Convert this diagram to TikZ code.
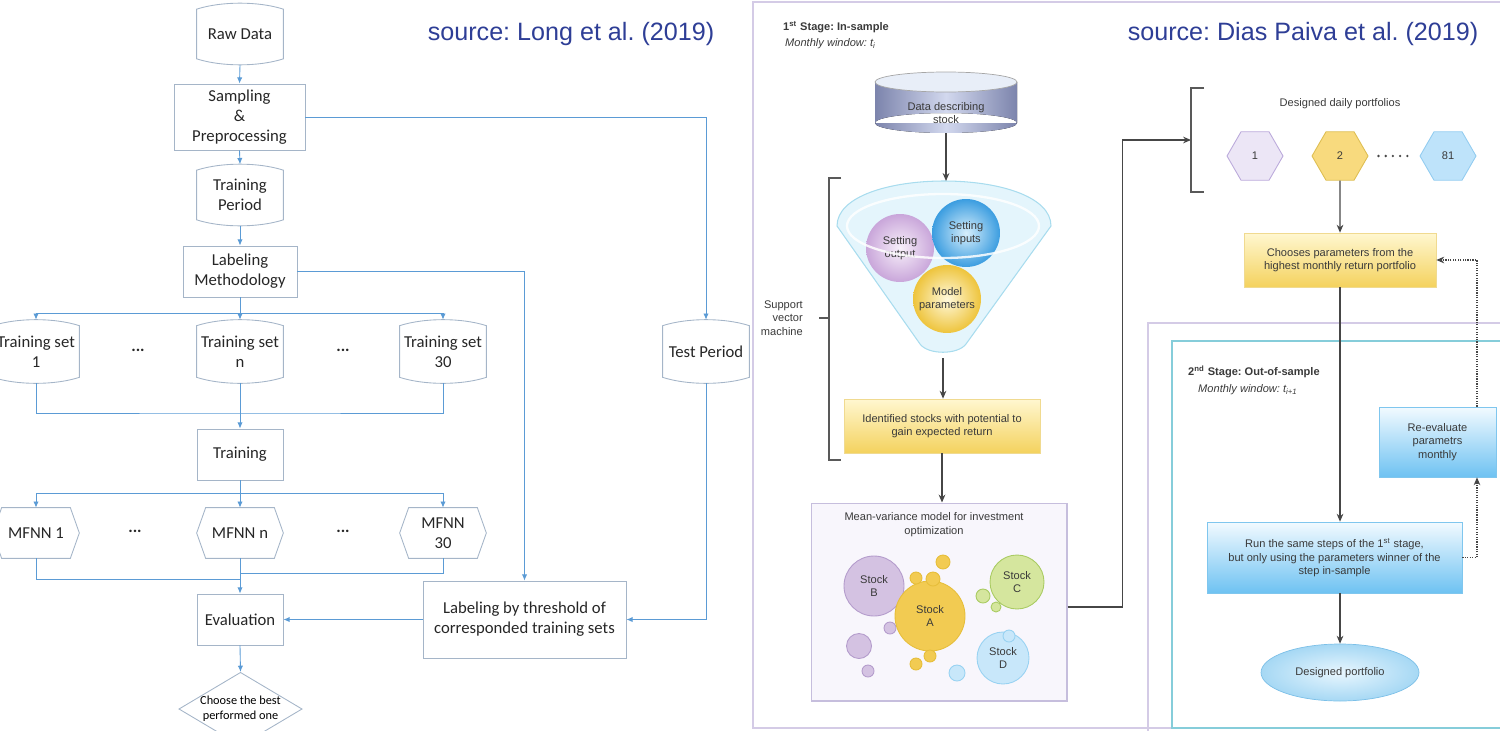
\documentclass[tikz,border=0pt]{standalone}
\usepackage{fontspec}
\setmainfont{Liberation Sans}
\newfontfamily\calib{Carlito}
\usepackage{tikz}
\usetikzlibrary{positioning, arrows.meta, shapes.geometric}
\frenchspacing
\definecolor{flowblue}{RGB}{91,155,213}
\definecolor{boxgray}{RGB}{165,181,200}
\definecolor{srcblue}{RGB}{46,62,150}
\definecolor{txtgray}{RGB}{58,58,58}
\definecolor{arrgray}{RGB}{70,70,70}
\definecolor{lavline}{RGB}{212,203,230}
\definecolor{cyanline}{RGB}{134,205,218}
\definecolor{yeltop}{RGB}{255,247,208}
\definecolor{yelbot}{RGB}{244,210,94}
\definecolor{yeldraw}{RGB}{240,218,144}
\definecolor{bluetop}{RGB}{242,250,255}
\definecolor{bluebot}{RGB}{110,194,242}
\definecolor{bluedraw}{RGB}{127,198,238}
\definecolor{ellin}{RGB}{232,246,254}
\definecolor{ellout}{RGB}{166,216,244}
\definecolor{elldraw}{RGB}{124,192,232}
\definecolor{mvfill}{RGB}{248,246,252}
\definecolor{mvdraw}{RGB}{198,190,221}
\definecolor{funfill}{RGB}{228,245,252}
\definecolor{fundraw}{RGB}{168,220,238}
\definecolor{outin}{RGB}{248,240,250}
\definecolor{outout}{RGB}{201,166,218}
\definecolor{inpin}{RGB}{214,238,251}
\definecolor{inpout}{RGB}{59,157,224}
\definecolor{modin}{RGB}{255,249,220}
\definecolor{modout}{RGB}{238,196,60}
\definecolor{cylside}{RGB}{124,132,172}
\definecolor{cylmid}{RGB}{210,216,238}
\definecolor{cyltop}{RGB}{232,238,248}
\definecolor{stkyel}{RGB}{242,203,82}
\definecolor{stkyeld}{RGB}{230,190,58}
\definecolor{stkpur}{RGB}{212,194,226}
\definecolor{stkpurd}{RGB}{180,156,204}
\definecolor{stkgrn}{RGB}{213,230,158}
\definecolor{stkgrnd}{RGB}{169,203,98}
\definecolor{stkblu}{RGB}{200,231,250}
\definecolor{stkblud}{RGB}{152,210,242}
\definecolor{hexpur}{RGB}{236,230,246}
\definecolor{hexpurd}{RGB}{187,170,219}
\definecolor{hexyel}{RGB}{248,218,126}
\definecolor{hexyeld}{RGB}{222,190,82}
\definecolor{hexblu}{RGB}{190,227,250}
\definecolor{hexblud}{RGB}{146,204,240}
\tikzset{
    leftfont/.style={font=\calib\fontsize{9.5}{11.3}\selectfont, text=black!85},
    flowbox/.style={rectangle, draw=boxgray, line width=0.5pt, leftfont, align=center, inner sep=1pt},
    storenode/.style={rectangle, leftfont, align=center, minimum width=1.72cm, minimum height=0.98cm, inner sep=0pt},
    hexnode/.style={rectangle, leftfont, align=center, minimum width=1.72cm, minimum height=1cm, inner sep=0pt},
    flowline/.style={draw=flowblue, line width=0.5pt},
    flow/.style={flowline, -{Latex[length=3.5pt,width=3pt]}},
    rightfont/.style={font=\fontsize{6.3}{7.6}\selectfont, text=txtgray},
    yelbox/.style={rectangle, draw=yeldraw, top color=yeltop, bottom color=yelbot, rightfont, align=center},
    bluebox/.style={rectangle, draw=bluedraw, top color=bluetop, bottom color=bluebot, rightfont, align=center},
    arr/.style={draw=arrgray, line width=0.7pt, -{Stealth[length=4.5pt,width=3.8pt]}},
    dotarr/.style={draw=arrgray, line width=0.6pt, dash pattern=on 0.7pt off 0.7pt, -{Stealth[length=4.5pt,width=3.8pt]}},
    brk/.style={draw=arrgray!90, line width=0.7pt},
    hexa/.style={regular polygon, regular polygon sides=6, minimum size=1.12cm, inner sep=0pt, rightfont, line width=0.5pt},
    ball/.style={circle, minimum size=1.36cm, inner sep=0pt, rightfont, align=center},
    stock/.style={circle, inner sep=0pt, rightfont, align=center, line width=0.5pt}
}
\begin{document}
\begin{tikzpicture}[x=0.02cm, y=-0.02cm]
\useasboundingbox (0,0) rectangle (1500,730);

% ---------- left: Long et al.
\node[storenode] (raw) at (240,34) {Raw Data};
\node[flowbox, minimum width=2.62cm, minimum height=1.32cm] (samp) at (239.5,117) {Sampling\\\&\\Preprocessing};
\node[storenode] (tper) at (240,195) {Training\\Period};
\node[flowbox, minimum width=2.28cm, minimum height=1.02cm] (lab) at (240,271.5) {Labeling\\Methodology};
\node[storenode, minimum height=1.02cm] (ts1) at (36,351.5) {Training set\\1};
\node[storenode, minimum height=1.02cm] (tsn) at (240,351.5) {Training set\\n};
\node[storenode, minimum height=1.02cm] (ts30) at (443,351.5) {Training set\\30};
\node[storenode, minimum height=1.02cm] (test) at (706,351.5) {Test Period};
\node[leftfont] (dot1) at (138,350) {\textbf{...}};
\node[leftfont] (dot2) at (343,350) {\textbf{...}};
\node[flowbox, minimum width=1.72cm, minimum height=1.02cm] (train) at (240,454.5) {Training};
\node[hexnode] (m1) at (36,533) {MFNN 1};
\node[hexnode] (mn) at (240,533) {MFNN n};
\node[hexnode] (m30) at (443,533) {MFNN\\30};
\node[leftfont] (dot3) at (135,531) {\textbf{...}};
\node[leftfont] (dot4) at (343,531) {\textbf{...}};
\node[flowbox, minimum width=1.72cm, minimum height=1.02cm] (eval) at (240,619.5) {Evaluation};
\node[diamond, draw=boxgray, line width=0.5pt, aspect=1.68, minimum width=2.42cm, minimum height=1.44cm, inner sep=0pt,
      align=center, font=\calib\fontsize{7}{8.5}\selectfont] (best) at (240.5,709) {Choose the best\\performed one};
\node[flowbox, minimum width=4.06cm, minimum height=1.54cm] (thr) at (524.5,619.5) {Labeling by threshold of\\corresponded training sets};

% stored-data outline: top bulges up, bottom bulges down
\foreach \n in {raw, tper, ts1, tsn, ts30, test}
    \draw[draw=boxgray, line width=0.5pt] (\n.north west) .. controls +(0.5cm,0.16cm) and +(-0.5cm,0.16cm) .. (\n.north east)
        -- (\n.south east) .. controls +(-0.5cm,-0.16cm) and +(0.5cm,-0.16cm) .. (\n.south west) -- cycle;
\foreach \n in {m1, mn, m30}
    \draw[draw=boxgray, line width=0.5pt] (\n.west) -- ([xshift=0.18cm]\n.north west) -- ([xshift=-0.18cm]\n.north east)
        -- (\n.east) -- ([xshift=-0.18cm]\n.south east) -- ([xshift=0.18cm]\n.south west) -- cycle;

\coordinate (busA) at (240,313);
\coordinate (busB) at (240,413);
\coordinate (busC) at (240,493);
\coordinate (busD) at (240,579);
\coordinate (busE) at (240,573);

\draw[flow] ([yshift=-0.12cm]raw.south) -- (samp.north);
\draw[flow] (samp.south) -- ([yshift=0.12cm]tper.north);
\draw[flow] ([yshift=-0.12cm]tper.south) -- (lab.north);
\draw[flow] (lab.south) -- ([yshift=0.12cm]tsn.north);
\draw[flow] (busA) -| ([yshift=0.12cm]ts1.north);
\draw[flow] (busA) -| ([yshift=0.12cm]ts30.north);
\draw[flowline] ([yshift=-0.12cm]ts1.south) |- (busB) -| ([yshift=-0.12cm]ts30.south);
\draw[flow] ([yshift=-0.12cm]tsn.south) -- (train.north);
\draw[flow] (train.south) -- (mn.north);
\draw[flow] (busC) -| (m1.north);
\draw[flow] (busC) -| (m30.north);
\draw[flowline] (m1.south) |- (busD);
\draw[flowline] (m30.south) |- (busE);
\draw[flow] (mn.south) -- (eval.north);
\draw[flow] (eval.south) -- (best.north);
\draw[flow] (samp.east) -| ([yshift=0.12cm]test.north);
\draw[flow] (lab.east) -| (thr.north);
\draw[flow] ([yshift=-0.12cm]test.south) |- (thr.east);
\draw[flow] (thr.west) -- (eval.east);

\node[font=\fontsize{14.3}{17}\selectfont, text=srcblue] (srcL) at (571,34) {source: Long et al. (2019)};

% ---------- right: Dias Paiva et al.
\draw[lavline, line width=0.8pt] (753,2) rectangle (1520,728);
\draw[lavline, line width=0.8pt] (1148,323) rectangle (1520,740);
\draw[cyanline, line width=0.8pt] (1172,341) rectangle (1520,728);

\node[font=\fontsize{14.3}{17}\selectfont, text=srcblue] (srcR) at (1303,34) {source: Dias Paiva et al. (2019)};

\node[rightfont, anchor=west] (st1) at (777,27) {\textbf{1\textsuperscript{st} Stage: In-sample}};
\node[rightfont, anchor=west] (mw1) at (779,44) {\textit{Monthly window: t\textsubscript{i}}};
\node[rightfont, anchor=west] (st2) at (1182,372) {\textbf{2\textsuperscript{nd} Stage: Out-of-sample}};
\node[rightfont, anchor=west] (mw2) at (1192,390) {\textit{Monthly window: t\textsubscript{i+1}}};

% data cylinder
\fill[left color=cylside, right color=cylside, middle color=cylmid] (875,82) rectangle (1017,123) (946,123) ellipse[x radius=71, y radius=10];
\filldraw[fill=cyltop, draw=gray!70, line width=0.4pt] (946,82) ellipse[x radius=71, y radius=10];
\node[rightfont, align=center] (data) at (946,113) {Data describing\\stock};
\coordinate (databot) at (946,133);

% funnel
\filldraw[fill=funfill, draw=fundraw, line width=0.6pt] (837,226) .. controls (837,166) and (1051,166) .. (1051,226)
    -- (966,344) .. controls (958,355) and (928,355) .. (920,344) -- cycle;
\coordinate (funtop) at (946,181);
\coordinate (funbot) at (943,358);
\node[ball, inner color=outin, outer color=outout] (outp) at (900,248) {Setting\\output};
\node[ball, inner color=inpin, outer color=inpout] (inp) at (966,233) {Setting\\inputs};
\node[ball, inner color=modin, outer color=modout] (modp) at (947,299) {Model\\parameters};
\draw[white, line width=1.3pt, opacity=0.85] (943,226) ellipse[x radius=96, y radius=32];

\draw[brk] (841,178) -- (829,178) -- (829,460) -- (841,460);
\draw[brk] (829,318) -- (819,318);
\node[rightfont, align=right, anchor=east] (svm) at (809,318) {Support\\vector\\machine};

\node[yelbox, minimum width=3.92cm, minimum height=1.08cm] (idn) at (942,426) {Identified stocks with potential to\\gain expected return};
\draw[arr] (databot) -- (funtop);
\draw[arr] (funbot) -- (funbot |- idn.north);

% mean-variance box
\node[rectangle, draw=mvdraw, fill=mvfill, minimum width=5.12cm, minimum height=3.96cm, line width=0.6pt] (mv) at (939,602) {};
\node[rightfont, align=center] (mvt) at (934,524.5) {Mean-variance model for investment\\optimization};
\draw[arr] (idn.south) -- (idn.south |- mv.north);

\foreach \x/\y/\r in {859/646/12.5, 890/628/6, 868/671/6}
    \filldraw[fill=stkpur, draw=stkpurd, line width=0.5pt] (\x,\y) circle[radius=\r];
\node[stock, fill=stkpur, draw=stkpurd, minimum size=1.2cm] (stB) at (874,586) {Stock\\B};
\node[stock, fill=stkyel, draw=stkyeld, minimum size=1.4cm] (stA) at (930,616) {Stock\\A};
\foreach \x/\y/\r in {943/562/7, 916/578/6, 933/579/7, 930/656/6, 916/664/6}
    \filldraw[fill=stkyel, draw=stkyeld, line width=0.5pt] (\x,\y) circle[radius=\r];
\node[stock, fill=stkgrn, draw=stkgrnd, minimum size=1.08cm] (stC) at (1017,582) {Stock\\C};
\foreach \x/\y/\r in {983/596/7, 996/607/5}
    \filldraw[fill=stkgrn, draw=stkgrnd, line width=0.5pt] (\x,\y) circle[radius=\r];
\node[stock, fill=stkblu, draw=stkblud, minimum size=1.04cm] (stD) at (1003,658) {Stock\\D};
\foreach \x/\y/\r in {957/673/8, 1009/636/6}
    \filldraw[fill=stkblu, draw=stkblud, line width=0.5pt] (\x,\y) circle[radius=\r];

% daily portfolios
\coordinate (pbrk) at (1191,140);
\draw[arr] ([yshift=-0.1cm]mv.east) -- ++(55,0) |- (pbrk);
\draw[brk] (1204,88) -- (1191,88) -- (1191,192) -- (1204,192);
\node[rightfont] (ddp) at (1340,104) {Designed daily portfolios};
\node[hexa, fill=hexpur, draw=hexpurd] (p1) at (1255,156) {1};
\node[hexa, fill=hexyel, draw=hexyeld] (p2) at (1340,156) {2};
\node[hexa, fill=hexblu, draw=hexblud] (p81) at (1448,156) {81};
\draw[arrgray, line width=1.5pt, line cap=round, dash pattern=on 0pt off 4.1pt, shorten <=0.2cm, shorten >=0.2cm] (p2) -- (p81);

\node[yelbox, minimum width=3.84cm, minimum height=1.08cm] (chs) at (1340,260) {Chooses parameters from the\\highest monthly return portfolio};
\draw[arr] (p2.south) -- (chs.north);

% second stage
\node[bluebox, minimum width=2.34cm, minimum height=1.4cm] (reev) at (1437.5,442) {Re-evaluate\\parametrs\\monthly};
\node[bluebox, minimum width=5.1cm, minimum height=1.42cm] (run) at (1334.5,557.5) {Run the same steps of the 1\textsuperscript{st} stage,\\but only using the parameters winner of the\\step in-sample};
\node[ellipse, draw=elldraw, inner color=ellin, outer color=ellout, minimum width=3.16cm, minimum height=1.14cm, rightfont] (dport) at (1340,672.5) {Designed portfolio};
\draw[arr] (chs.south) -- (chs.south |- run.north);
\draw[arr] (dport.north |- run.south) -- (dport.north);
\draw[dotarr] (run.east) -| ([xshift=0.79cm]reev.south);
\draw[dotarr] ([xshift=0.79cm]reev.north) |- (chs.east);
\end{tikzpicture}
\end{document}
